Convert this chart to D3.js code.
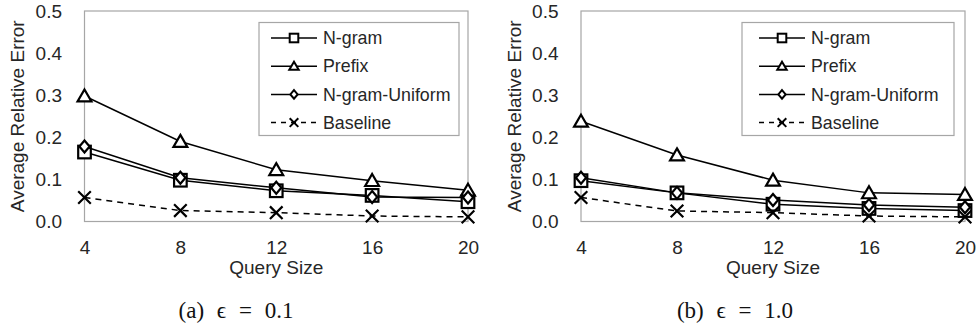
<!doctype html>
<meta charset="utf-8">
<style>
    body { margin: 0; background: #fff; }
    text { font-family: "Liberation Sans", Arial, sans-serif; fill: #262626; }
    .caption { font-family: "Liberation Serif", "DejaVu Serif", serif; fill: #111; }
</style>
<body>
<script src="https://d3js.org/d3.v7.min.js"></script>
<script>
    // query sizes on the x axis
    const querySizes = [4, 8, 12, 16, 20];
    const yTicks = [0, 0.1, 0.2, 0.3, 0.4, 0.5];
    const seriesNames = ['N-gram', 'Prefix', 'N-gram-Uniform', 'Baseline'];

    // (a) epsilon = 0.1
    const ngramA   = [0.165, 0.098, 0.073, 0.062, 0.047];
    const prefixA  = [0.298, 0.190, 0.123, 0.097, 0.074];
    const uniformA = [0.178, 0.104, 0.080, 0.058, 0.057];
    const baseA    = [0.057, 0.026, 0.021, 0.013, 0.011];

    // (b) epsilon = 1.0
    const ngramB   = [0.097, 0.068, 0.041, 0.031, 0.026];
    const prefixB  = [0.238, 0.158, 0.098, 0.068, 0.064];
    const uniformB = [0.104, 0.068, 0.051, 0.039, 0.034];
    const baseB    = [0.057, 0.025, 0.021, 0.013, 0.011];

    const captions = ['(a) \u03f5 = 0.1', '(b) \u03f5 = 1.0'];

    const W = 979, H = 331;
    const axisFont = 19, legendFont = 17.8;
    const svg = d3.select('body').append('svg')
        .attr('width', W)
        .attr('height', H);

    // marker shapes, r is half width
    const marker = {
        'N-gram': (g, r) => g.append('rect').attr('x', -r).attr('y', -r).attr('width', 2 * r).attr('height', 2 * r),
        'Prefix': (g, r) => g.append('path').attr('d', `M0,${-r * 1.05}L${r * 1.1},${r * 0.85}L${-r * 1.1},${r * 0.85}Z`),
        'N-gram-Uniform': (g, r) => g.append('path').attr('d', `M0,${-r}L${r * 0.85},0L0,${r}L${-r * 0.85},0Z`),
        'Baseline': (g, r) => g.append('path').attr('d', `M${-r},${-r}L${r},${r}M${-r},${r}L${r},${-r}`)
    };

    function drawPanel(opts) {
        const {left, right, top, bottom, data, caption, legend} = opts;
        const x = d3.scaleLinear().domain([4, 20]).range([left, right]);
        const y = d3.scaleLinear().domain([0, 0.5]).range([bottom, top]);
        const g = svg.append('g');

        // frame
        g.append('rect')
            .attr('x', left).attr('y', top)
            .attr('width', right - left).attr('height', bottom - top)
            .attr('fill', 'none').attr('stroke', '#a6a6a6').attr('stroke-width', 1.2);

        // y axis
        const yAxis = g.append('g')
            .attr('transform', `translate(${left},0)`)
            .call(d3.axisLeft(y).tickValues(yTicks).tickFormat(d3.format('.1f')).tickSize(0).tickPadding(22.5));
        yAxis.select('.domain').remove();
        yAxis.selectAll('text').attr('font-size', axisFont).attr('font-family', null).attr('fill', '#262626');

        // x axis
        const xAxis = g.append('g')
            .attr('transform', `translate(0,${bottom})`)
            .call(d3.axisBottom(x).tickValues(querySizes).tickSize(0).tickPadding(19.5));
        xAxis.select('.domain').remove();
        xAxis.selectAll('text').attr('font-size', axisFont).attr('font-family', null).attr('fill', '#262626');

        g.append('text')
            .attr('transform', `translate(${left - 67},${(top + bottom) / 2}) rotate(-90)`)
            .attr('text-anchor', 'middle').attr('dy', '0.35em')
            .attr('font-size', axisFont)
            .text('Average Relative Error');

        g.append('text')
            .attr('x', (left + right) / 2).attr('y', bottom + 52.5)
            .attr('text-anchor', 'middle')
            .attr('font-size', axisFont)
            .text('Query Size');

        const line = d3.line().x((d, i) => x(querySizes[i])).y(d => y(d));

        seriesNames.forEach((name, si) => {
            const vals = data[si];
            g.append('path')
                .datum(vals)
                .attr('d', line)
                .attr('fill', 'none')
                .attr('stroke', '#000')
                .attr('stroke-width', 1.5)
                .attr('stroke-dasharray', name === 'Baseline' ? '6,5' : null);
            vals.forEach((v, i) => {
                const m = g.append('g').attr('transform', `translate(${x(querySizes[i])},${y(v)})`);
                marker[name](m, name === 'N-gram-Uniform' ? 6 : 6.3)
                    .attr('fill', name === 'Baseline' ? 'none' : '#fff')
                    .attr('stroke', '#000')
                    .attr('stroke-width', 2.2);
            });
        });

        // legend
        const lg = g.append('g');
        lg.append('rect')
            .attr('x', legend.x).attr('y', legend.y)
            .attr('width', legend.w).attr('height', legend.h)
            .attr('fill', '#fff').attr('stroke', '#a6a6a6').attr('stroke-width', 1.2);
        seriesNames.forEach((name, si) => {
            const cy = legend.y + 15.5 + si * 28.2;
            const x0 = legend.x + legend.lineStart, x1 = x0 + 46, cx = (x0 + x1) / 2;
            lg.append('line')
                .attr('x1', x0).attr('x2', x1).attr('y1', cy).attr('y2', cy)
                .attr('stroke', '#000').attr('stroke-width', 1.5)
                .attr('stroke-dasharray', name === 'Baseline' ? '5,5' : null);
            const m = lg.append('g').attr('transform', `translate(${cx},${cy})`);
            marker[name](m, 4.3)
                .attr('fill', name === 'Baseline' ? 'none' : '#fff')
                .attr('stroke', '#000')
                .attr('stroke-width', 2);
            lg.append('text')
                .attr('x', legend.x + legend.textStart).attr('y', cy)
                .attr('dy', '0.35em')
                .attr('font-size', legendFont)
                .text(name);
        });

        svg.append('text')
            .attr('class', 'caption')
            .attr('x', caption.x).attr('y', 318)
            .attr('text-anchor', 'middle')
            .attr('font-size', 23)
            .attr('word-spacing', 7)
            .text(caption.text);
    }

    drawPanel({
        left: 84.5, right: 468, top: 11, bottom: 221.5,
        data: [ngramA, prefixA, uniformA, baseA],
        caption: {x: 236, text: captions[0]},
        legend: {x: 259, y: 22.5, w: 200, h: 113, lineStart: 12, textStart: 64}
    });
    drawPanel({
        left: 581, right: 965, top: 11, bottom: 221.5,
        data: [ngramB, prefixB, uniformB, baseB],
        caption: {x: 735, text: captions[1]},
        legend: {x: 742, y: 22.5, w: 212, h: 113, lineStart: 17, textStart: 69}
    });
</script>
